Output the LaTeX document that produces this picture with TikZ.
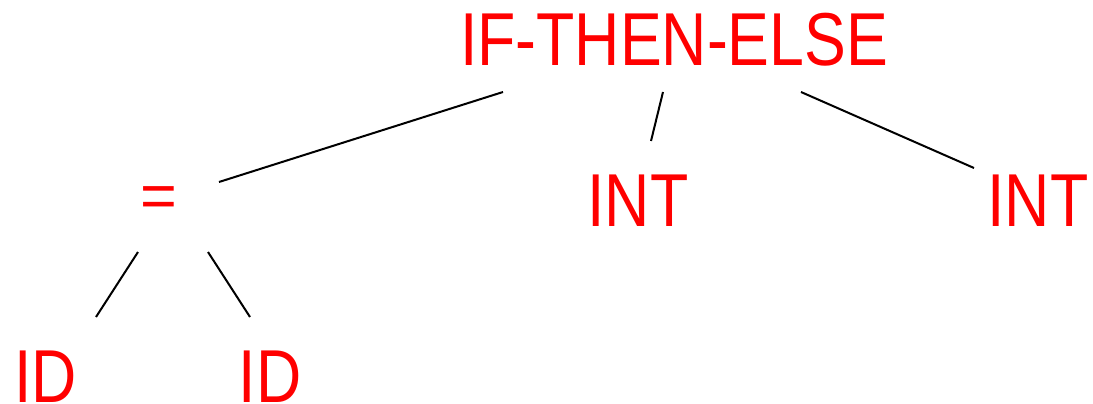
\documentclass[tikz,border=0pt]{standalone}
\usepackage{fontspec}
\setmainfont{Liberation Sans}
\definecolor{treered}{RGB}{255,0,0}
\begin{document}
\begin{tikzpicture}[x=1pt,y=-1pt,
  lbl/.style={text=treered,font=\fontsize{75}{80}\selectfont\addfontfeature{FakeStretch=0.835},inner sep=0pt,anchor=base},
  edge/.style={line width=2pt,black}]
\useasboundingbox (0,0) rectangle (1093,404);
\node[lbl] (top) at (674,66) {IF-THEN-ELSE};
\node[lbl,font=\fontsize{63}{70}\selectfont] (eq) at (159,217) {=};
\node[lbl] (int1) at (638,226) {INT};
\node[lbl] (int2) at (1038,226) {INT};
\node[lbl] (id1) at (45.5,402) {ID};
\node[lbl] (id2) at (270,402) {ID};
\draw[edge] ([shift={(-171,26)}]top.base) -- ([shift={(60,-35)}]eq.base);
\draw[edge] ([shift={(-11,26)}]top.base) -- ([shift={(13,-85)}]int1.base);
\draw[edge] ([shift={(127,26)}]top.base) -- ([shift={(-64,-58)}]int2.base);
\draw[edge] ([shift={(-21,35)}]eq.base) -- ([shift={(50.5,-85)}]id1.base);
\draw[edge] ([shift={(49,35)}]eq.base) -- ([shift={(-20,-85)}]id2.base);
\end{tikzpicture}
\end{document}
